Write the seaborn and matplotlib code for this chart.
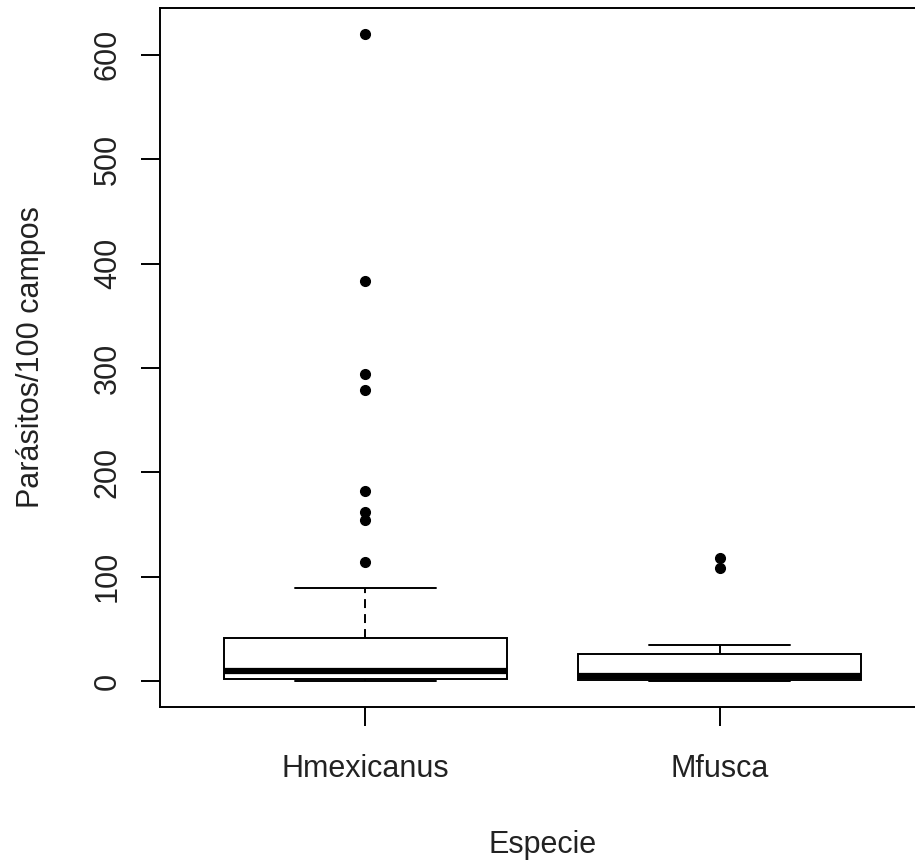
import numpy as np
import pandas as pd
import matplotlib
matplotlib.use("Agg")
import matplotlib.pyplot as plt
import seaborn as sns

# Parasite counts per 100 microscope fields, by host species
especies = ["Hmexicanus", "Mfusca"]
hmexicanus = [0, 0, 0, 0, 1, 1, 1, 1, 2, 2,
              2,
              3, 3, 4, 5, 6, 6, 7, 8, 9,
              10,
              12, 14, 17, 20, 23, 27, 30, 34, 38,
              41,
              60, 89,
              114, 154, 162, 182, 279, 294, 383, 620]
mfusca = [0, 0, 0, 0, 0, 0, 0, 1, 1, 1,
          1,
          1, 2, 2, 2, 3, 3, 4, 4, 4,
          5,
          6, 7, 8, 10, 12, 14, 17, 20, 23,
          26,
          27, 28, 29, 30, 31, 32, 33, 35,
          108, 118]
y_ticks = [0, 100, 200, 300, 400, 500, 600]

df = pd.DataFrame({
    "Especie": ["Hmexicanus"] * len(hmexicanus) + ["Mfusca"] * len(mfusca),
    "valor": hmexicanus + mfusca,
})

sns.set_style("white")
plt.rcParams["font.family"] = ["Liberation Sans", "DejaVu Sans"]
plt.rcParams["lines.scale_dashes"] = True

W, H = 915, 863
fig = plt.figure(figsize=(W / 100, H / 100), dpi=100)
ax = fig.add_axes([160 / W, 156 / H, 765 / W, 699 / H])

lw = 1.4
sns.boxplot(
    data=df, x="Especie", y="valor", order=especies, ax=ax,
    width=0.8, color="white", linecolor="black", linewidth=lw,
    whis=1.5, fliersize=7,
    flierprops=dict(marker="o", markerfacecolor="black",
                    markeredgecolor="black", markersize=7),
    medianprops=dict(color="black", linewidth=4.5, solid_capstyle="butt"),
    whiskerprops=dict(color="black", linewidth=lw, linestyle=(0, (4.6, 3.1))),
    capprops=dict(color="black", linewidth=lw),
    boxprops=dict(edgecolor="black", facecolor="white", linewidth=lw),
)

# R-style axis ranges: data range padded by 4 %
vals = np.array(hmexicanus + mfusca, dtype=float)
lo, hi = vals.min(), vals.max()
pad = 0.04 * (hi - lo)
ax.set_ylim(lo - pad, hi + pad)
ax.set_xlim(-0.5 - 0.08, 1.5 + 0.08)

for s in ax.spines.values():
    s.set_visible(True)
    s.set_color("black")
    s.set_linewidth(lw)

ax.set_yticks(y_ticks)
ax.set_yticklabels([str(t) for t in y_ticks], rotation=90,
                   rotation_mode="anchor", ha="center", va="baseline")
ax.set_xticks(range(len(especies)))
ax.set_xticklabels(especies, va="baseline")

ax.tick_params(axis="both", direction="out", length=13.7, width=lw,
               color="black", labelsize=22, labelcolor="#222222",
               left=True, bottom=True, right=False, top=False)
ax.tick_params(axis="y", pad=18)
ax.tick_params(axis="x", pad=36.7)

ax.set_xlabel("Especie", fontsize=22, color="#222222", va="baseline")
ax.set_ylabel("Parásitos/100 campos", fontsize=22, color="#222222",
              va="baseline")
ax.xaxis.set_label_coords(0.5, (10 - 156) / 699)
ax.yaxis.set_label_coords((39 - 160) / 765, 0.5)

fig.savefig("out.png", dpi=100, facecolor="white")
